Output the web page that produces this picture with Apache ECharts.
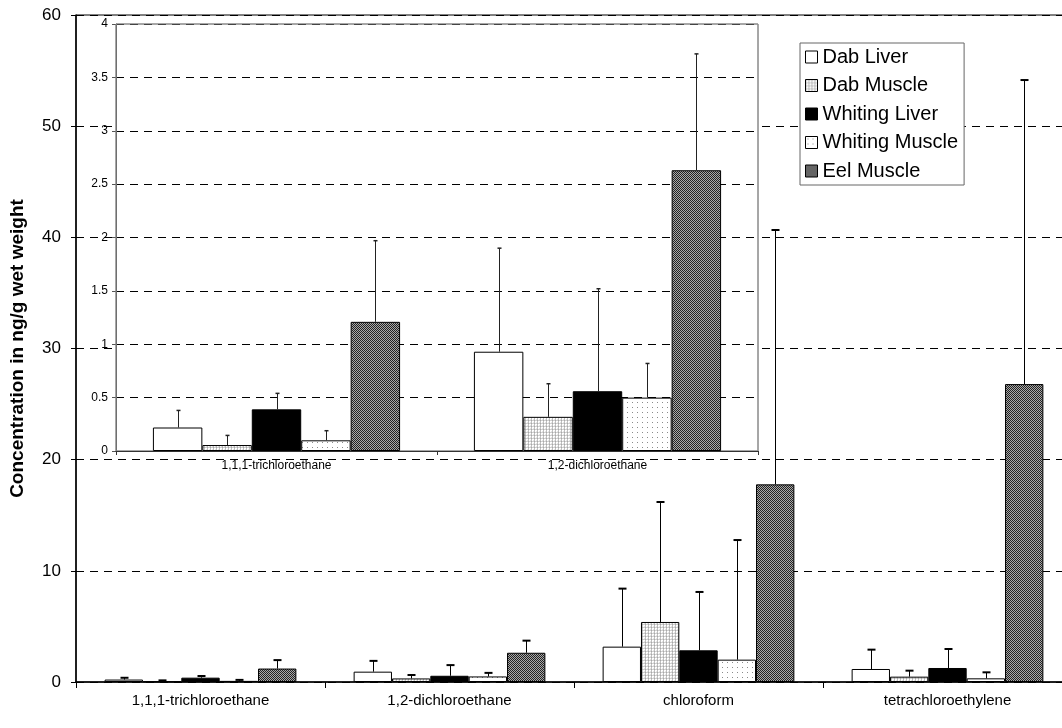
<!DOCTYPE html>
<html>
<head>
<meta charset="utf-8">
<script src="https://cdn.jsdelivr.net/npm/echarts@6/dist/echarts.min.js"></script>
<style>html,body{margin:0;padding:0;background:#fff;overflow:hidden;}#c{width:1072px;height:728px;}</style>
</head>
<body>
<div id="c"></div>
<script>
// ---- data ----
const categories = ['1,1,1-trichloroethane', '1,2-dichloroethane', 'chloroform', 'tetrachloroethylene'];
const insetCategories = ['1,1,1-trichloroethane', '1,2-dichloroethane'];
const seriesNames = ['Dab Liver', 'Dab Muscle', 'Whiting Liver', 'Whiting Muscle', 'Eel Muscle'];
const dabLiver = [0.22, 0.93, 3.18, 1.17];
const dabLiverSD = [0.16, 0.97, 5.22, 1.74];
const dabMuscle = [0.056, 0.32, 5.40, 0.48];
const dabMuscleSD = [0.09, 0.31, 10.79, 0.54];
const whitingLiver = [0.39, 0.56, 2.85, 1.26];
const whitingLiverSD = [0.15, 0.96, 5.25, 1.71];
const whitingMuscle = [0.10, 0.50, 2.01, 0.33];
const whitingMuscleSD = [0.09, 0.32, 10.76, 0.54];
const eelMuscle = [1.21, 2.63, 17.78, 26.8];
const eelMuscleSD = [0.76, 1.09, 22.88, 27.35];
const mainTicks = [0, 10, 20, 30, 40, 50, 60];
const insetTicks = [0, 0.5, 1, 1.5, 2, 2.5, 3, 3.5, 4];

const means = [dabLiver, dabMuscle, whitingLiver, whitingMuscle, eelMuscle];
const sds = [dabLiverSD, dabMuscleSD, whitingLiverSD, whitingMuscleSD, eelMuscleSD];

// ---- patterns ----
function makePattern(w, h, bg, pixels) {
  const cv = document.createElement('canvas');
  cv.width = w; cv.height = h;
  const ctx = cv.getContext('2d');
  ctx.fillStyle = bg; ctx.fillRect(0, 0, w, h);
  pixels.forEach(p => { ctx.fillStyle = p[2]; ctx.fillRect(p[0], p[1], 1, 1); });
  return { image: cv, repeat: 'repeat' };
}
const dabMusclePat = makePattern(3, 3, '#ffffff', [[0,0,'#a8a8a8'],[0,1,'#c0c0c0'],[0,2,'#c0c0c0'],[1,0,'#d0d0d0'],[2,0,'#d0d0d0'],[2,2,'#e4e4e4']]);
const whitingMusclePat = makePattern(5, 5, '#ffffff', [[2,2,'#8a8a8a']]);
const eelPat = makePattern(2, 2, '#a8a8a8', [[0,0,'#222222'],[1,1,'#222222']]);
const fills = ['#ffffff', dabMusclePat, '#000000', whitingMusclePat, eelPat];

const FONT = 'Liberation Sans, Arial, sans-serif';
const GAP = 0.23;

function errRender(idx, capHalf, capWidth, lineColor) {
  return function (params, api) {
    const x = api.value(0), m = api.value(1), s = api.value(2);
    const p0 = api.coord([x, m]);
    const p1 = api.coord([x, m + s]);
    const catW = api.size([1, 0])[0];
    const bw = catW * (1 - GAP) / 5;
    const cx = Math.round(p0[0] + (idx - 2) * bw) + 0.5;
    return {
      type: 'group',
      children: [
        { type: 'line', shape: { x1: cx, y1: p0[1], x2: cx, y2: p1[1] }, style: { stroke: lineColor, lineWidth: 1 } },
        { type: 'line', shape: { x1: cx - capHalf, y1: p1[1], x2: cx + capHalf, y2: p1[1] }, style: { stroke: lineColor, lineWidth: capWidth } }
      ]
    };
  };
}

const series = [];
seriesNames.forEach((n, i) => {
  series.push({
    name: n, type: 'bar', xAxisIndex: 0, yAxisIndex: 0,
    data: means[i], barGap: '0%', barCategoryGap: (GAP * 100) + '%',
    itemStyle: { color: fills[i], borderColor: '#000', borderWidth: 1 },
    z: 2, silent: true, animation: false
  });
});
seriesNames.forEach((n, i) => {
  series.push({
    type: 'custom', xAxisIndex: 0, yAxisIndex: 0,
    data: means[i].map((v, k) => [k, v, sds[i][k]]),
    renderItem: errRender(i, 4, 2, '#000'), z: 3, silent: true, animation: false
  });
});
seriesNames.forEach((n, i) => {
  series.push({
    name: n, type: 'bar', xAxisIndex: 1, yAxisIndex: 1,
    data: means[i].slice(0, 2), barGap: '0%', barCategoryGap: (GAP * 100) + '%',
    itemStyle: { color: fills[i], borderColor: '#000', borderWidth: 1 },
    z: 8, silent: true, animation: false
  });
});
seriesNames.forEach((n, i) => {
  series.push({
    type: 'custom', xAxisIndex: 1, yAxisIndex: 1,
    data: means[i].slice(0, 2).map((v, k) => [k, v, sds[i][k]]),
    renderItem: errRender(i, 2, 1.5, '#222'), z: 9, silent: true, animation: false
  });
});

const chart = echarts.init(document.getElementById('c'), null, { renderer: 'canvas' });
chart.setOption({
  animation: false,
  backgroundColor: '#fff',
  textStyle: { fontFamily: FONT },
  grid: [
    { left: 76, top: 15, right: 0, bottom: 46, show: true, borderColor: '#000', borderWidth: 1, backgroundColor: 'transparent', z: 0 },
    { left: 116, top: 24, width: 642, height: 427, show: true, borderColor: '#888', borderWidth: 1, backgroundColor: '#fff', z: 5 },
    { left: 116, top: 24, width: 642, height: 427, show: true, borderColor: '#8a8a8a', borderWidth: 1, backgroundColor: 'transparent', z: 7 }
  ],
  xAxis: [
    {
      type: 'category', gridIndex: 0, data: categories,
      axisLine: { lineStyle: { color: '#000', width: 1.5 } },
      axisTick: { show: true, length: 6, lineStyle: { color: '#000' } },
      axisLabel: { color: '#000', fontSize: 15, fontFamily: FONT, margin: 11 },
      z: 1
    },
    {
      type: 'category', gridIndex: 1, data: insetCategories,
      axisLine: { lineStyle: { color: '#333', width: 1 } },
      axisTick: { show: true, length: 4, lineStyle: { color: '#333' } },
      axisLabel: { color: '#000', fontSize: 12, fontFamily: FONT, margin: 9 },
      z: 10
    },
    { type: 'category', gridIndex: 2, show: false, data: insetCategories }
  ],
  yAxis: [
    {
      type: 'value', gridIndex: 0, min: 0, max: 60, interval: 10,
      name: 'Concentration in ng/g wet weight', nameLocation: 'middle', nameGap: 49,
      nameTextStyle: { color: '#000', fontSize: 19, fontWeight: 'bold', fontFamily: FONT },
      axisLine: { show: true, lineStyle: { color: '#000', width: 1.5 } },
      axisTick: { show: true, length: 5, lineStyle: { color: '#000' } },
      axisLabel: { color: '#000', fontSize: 17, fontFamily: FONT, margin: 15, formatter: v => mainTicks.includes(v) ? String(v) : '' },
      splitLine: { show: true, lineStyle: { color: '#000', type: [8, 6], width: 1 } },
      z: 1
    },
    {
      type: 'value', gridIndex: 1, min: 0, max: 4, interval: 0.5,
      axisLine: { show: true, lineStyle: { color: '#555', width: 1 } },
      axisTick: { show: true, length: 4, lineStyle: { color: '#555' } },
      axisLabel: { color: '#000', fontSize: 12, fontFamily: FONT, margin: 8, formatter: v => insetTicks.includes(v) ? String(v) : '' },
      splitLine: { show: true, lineStyle: { color: '#000', type: [8, 6], width: 1 } },
      z: 6
    },
    { type: 'value', gridIndex: 2, show: false, min: 0, max: 4 }
  ],
  legend: {
    data: seriesNames, orient: 'vertical', left: 800, top: 43,
    backgroundColor: '#fff', borderColor: '#666', borderWidth: 1,
    padding: [4, 6, 4, 5], itemGap: 8.5, itemWidth: 12, itemHeight: 12,
    icon: 'rect', itemStyle: { borderColor: '#000', borderWidth: 1 },
    textStyle: { color: '#000', fontSize: 20, fontFamily: FONT, lineHeight: 20 },
    selectedMode: false, z: 20
  },
  series: series
});
</script>
</body>
</html>
